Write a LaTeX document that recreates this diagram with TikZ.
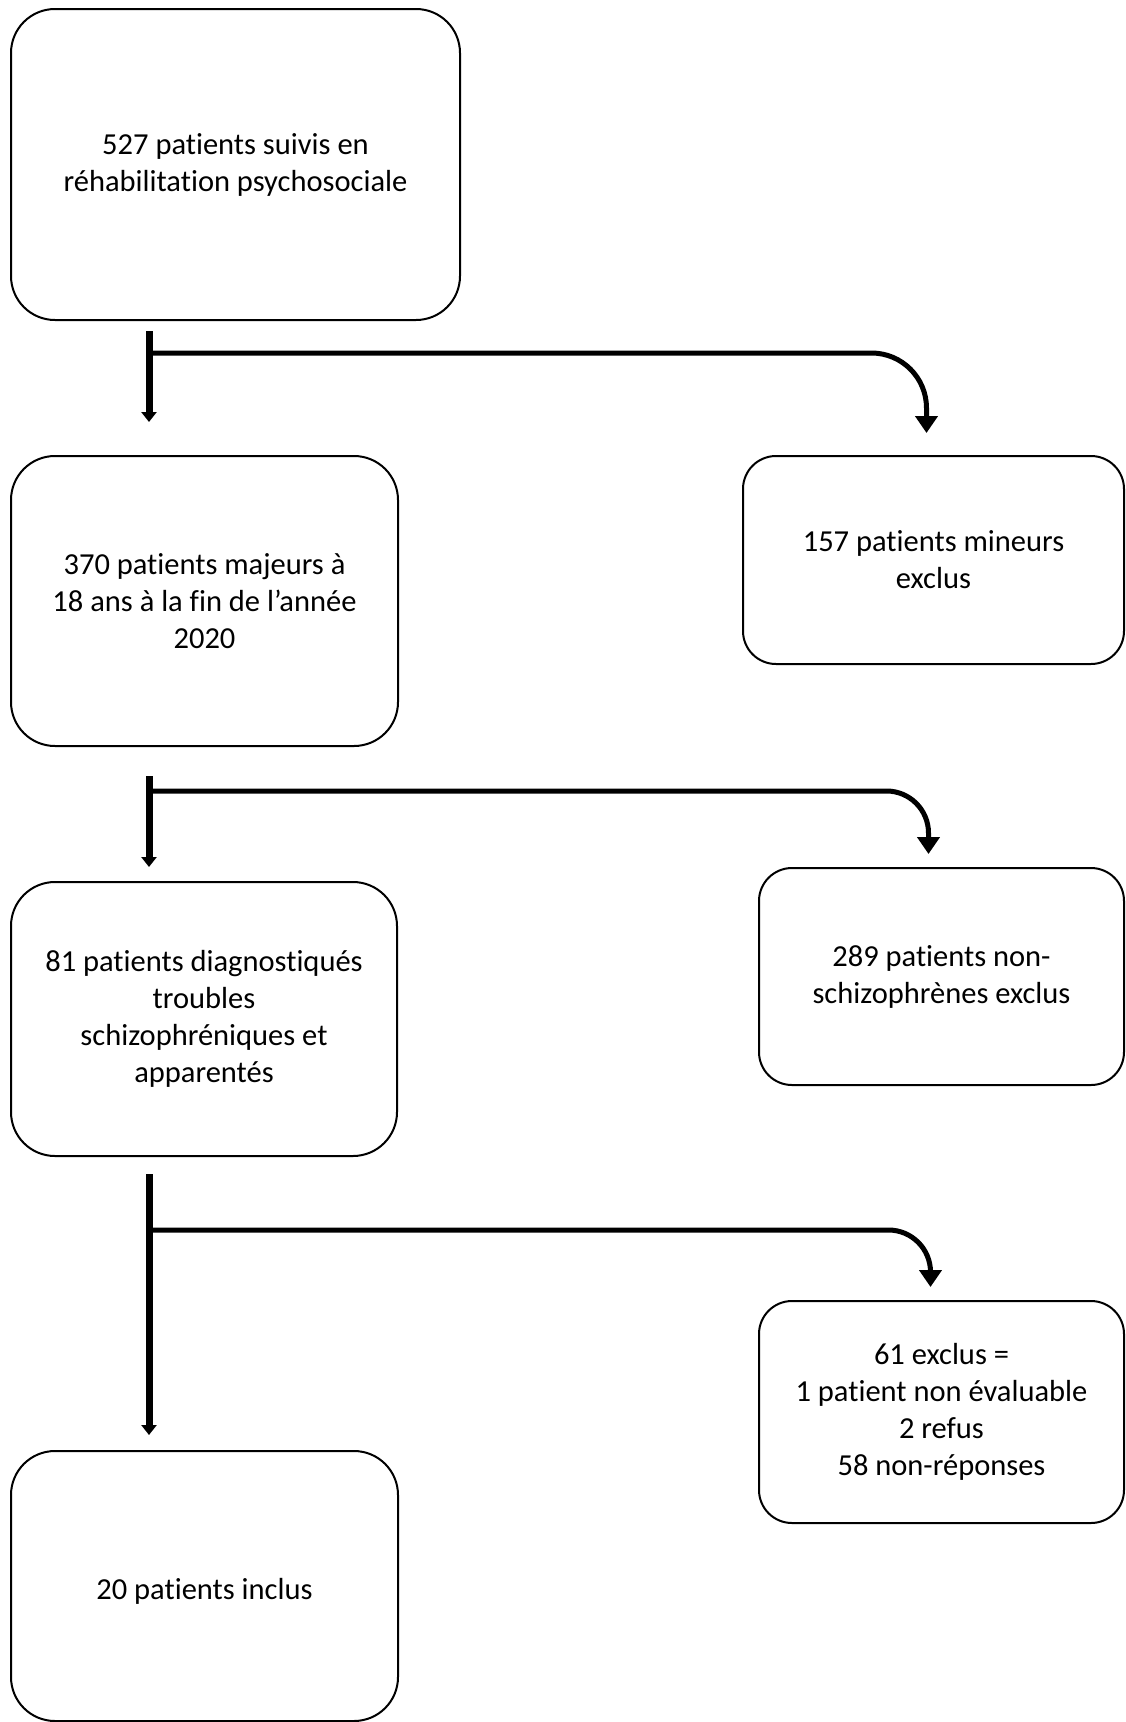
\documentclass[tikz,border=0pt]{standalone}
\usepackage{fontspec}
\setmainfont{Carlito}[Ligatures=NoCommon]
\usetikzlibrary{arrows.meta}

\begin{document}
\begin{tikzpicture}[x=1pt,y=-1pt,
  box/.style={draw,line width=2pt,rounded corners=44pt,align=center,inner sep=0pt,
    font=\fontsize{30.5}{37}\selectfont,execute at begin node=\rule{0pt}{31pt}},
  smallbox/.style={box,rounded corners=33pt},
  trunk/.style={line width=7pt,-{Triangle[width=15pt,length=10pt]}},
  branch/.style={line width=5pt,-{Triangle[width=22pt,length=17pt]}}]
\useasboundingbox (0,0) rectangle (1125,1722);

\node[box,minimum width=449pt,minimum height=311pt] (suivis) at (235.5,164.5)
  {527 patients suivis en\\réhabilitation psychosociale};
\node[box,minimum width=387pt,minimum height=290pt] (majeurs) at (204.5,601)
  {370 patients majeurs à\\18 ans à la fin de l’année\\2020};
\node[smallbox,minimum width=381pt,minimum height=208pt] (mineurs) at (933.5,560)
  {157 patients mineurs\\exclus};
\node[box,minimum width=386pt,minimum height=274pt] (schizo) at (204,1019)
  {81 patients diagnostiqués\\troubles\\schizophréniques et\\apparentés};
\node[smallbox,minimum width=365pt,minimum height=217pt] (nonschizo) at (941.5,976.5)
  {289 patients non-\\schizophrènes exclus};
\node[smallbox,minimum width=365pt,minimum height=222pt] (exclus) at (941.5,1412)
  {61 exclus =\\1 patient non évaluable\\2 refus\\58 non-réponses};
\node[box,minimum width=387pt,minimum height=270pt] (inclus) at (204.5,1586)
  {20 patients inclus};

% junctions on the left trunk
\coordinate (j1) at (149,353);
\coordinate (j2) at (149,791);
\coordinate (j3) at (149,1230);

\draw[trunk] ([yshift=-10pt]j1 |- suivis.south) -- ([yshift=33pt]j1 |- majeurs.north);
\draw[branch,rounded corners=55pt] (j1) -| ([xshift=-7pt,yshift=22pt]mineurs.north);

\draw[trunk] ([yshift=-29pt]j2 |- majeurs.south) -- ([yshift=14pt]j2 |- schizo.north);
\draw[branch,rounded corners=42pt] (j2) -| ([xshift=-13pt,yshift=13pt]nonschizo.north);

\draw[trunk] ([yshift=-17pt]j3 |- schizo.south) -- ([yshift=15pt]j3 |- inclus.north);
\draw[branch,rounded corners=42pt] (j3) -| ([xshift=-11pt,yshift=13pt]exclus.north);
\end{tikzpicture}
\end{document}
